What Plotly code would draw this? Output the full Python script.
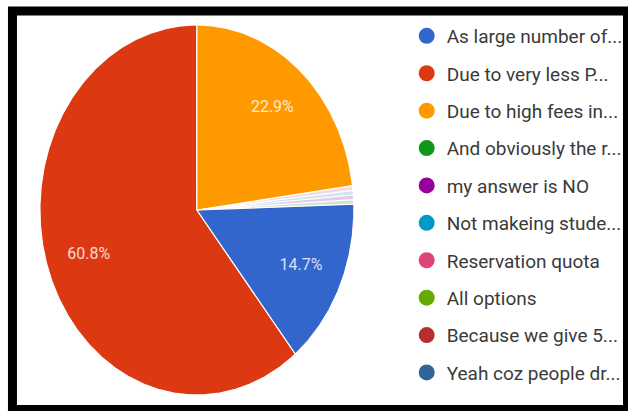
import numpy as np
import plotly.graph_objects as go

# Survey answers (legend order) and their share of responses in percent
labels = [
    "As large number of...",
    "Due to very less P...",
    "Due to high fees in...",
    "And obviously the r...",
    "my answer is NO",
    "Not makeing stude...",
    "Reservation quota",
    "All options",
    "Because we give 5...",
    "Yeah coz people dr...",
]
shares = [14.7, 60.8, 22.9, 0.4, 0.4, 0.4, 0.4, 0.0, 0.0, 0.0]
colors = ["#3366CC", "#DC3912", "#FF9900", "#109618", "#990099",
          "#0099C6", "#DD4477", "#66AA00", "#B82E2E", "#316395"]

# Order in which slices are laid out, counter-clockwise from 12 o'clock
slice_order = [1, 0, 3, 4, 5, 6, 7, 8, 9, 2]

W, H = 628, 411
fig = go.Figure()

total = sum(shares)
start = 0.0
mids = {}
for i in slice_order:
    span = shares[i] / total * 360.0
    if span > 0:
        n = max(int(span * 2), 3)
        t = np.radians(90.0 + np.linspace(start, start + span, n))
        xs = np.concatenate([[0.0], np.cos(t), [0.0]])
        ys = np.concatenate([[0.0], np.sin(t), [0.0]])
        small = shares[i] < 1
        fig.add_trace(go.Scatter(
            x=xs, y=ys, mode="lines", fill="toself",
            fillcolor=colors[i], opacity=0.22 if small else 1.0,
            line=dict(color="white", width=1.2),
            hoverinfo="skip", showlegend=False,
        ))
    mids[i] = np.radians(90.0 + start + span / 2)
    start += span

# Percentage labels inside the larger slices
lab_idx = [i for i in slice_order if shares[i] >= 5]
f = 0.73
fig.add_trace(go.Scatter(
    x=[f * np.cos(mids[i]) for i in lab_idx],
    y=[f * np.sin(mids[i]) for i in lab_idx],
    mode="text",
    text=[f"{shares[i]:.1f}%" for i in lab_idx],
    textfont=dict(family="Roboto", size=16, color="rgba(255,255,255,0.82)"),
    hoverinfo="skip", showlegend=False,
))

# Legend entries with round swatches
for i, name in enumerate(labels):
    fig.add_trace(go.Scatter(
        x=[None], y=[None], mode="markers", name=name,
        legendgroup=name,
        marker=dict(symbol="circle", size=18, color=colors[i]),
    ))

fig.update_layout(
    width=W, height=H,
    margin=dict(l=0, r=0, t=0, b=0),
    paper_bgcolor="white", plot_bgcolor="white",
    xaxis=dict(domain=[40 / W, 355 / W], range=[-1, 1], visible=False, fixedrange=True),
    yaxis=dict(domain=[16 / H, 386 / H], range=[-1, 1], visible=False, fixedrange=True),
    legend=dict(
        x=408 / W, xanchor="left", y=1 - 17 / H, yanchor="top",
        font=dict(family="Roboto", size=19, color="#3a3a3a"),
        tracegroupgap=9.7, itemclick=False, itemdoubleclick=False,
        bgcolor="rgba(0,0,0,0)",
    ),
    shapes=[dict(
        type="rect", xref="paper", yref="paper",
        x0=12.5 / W, x1=629.5 / W, y0=1 - 409.5 / H, y1=1 - 11 / H,
        line=dict(color="black", width=9), layer="above",
    )],
    showlegend=True,
)

fig.write_html("out.html")
